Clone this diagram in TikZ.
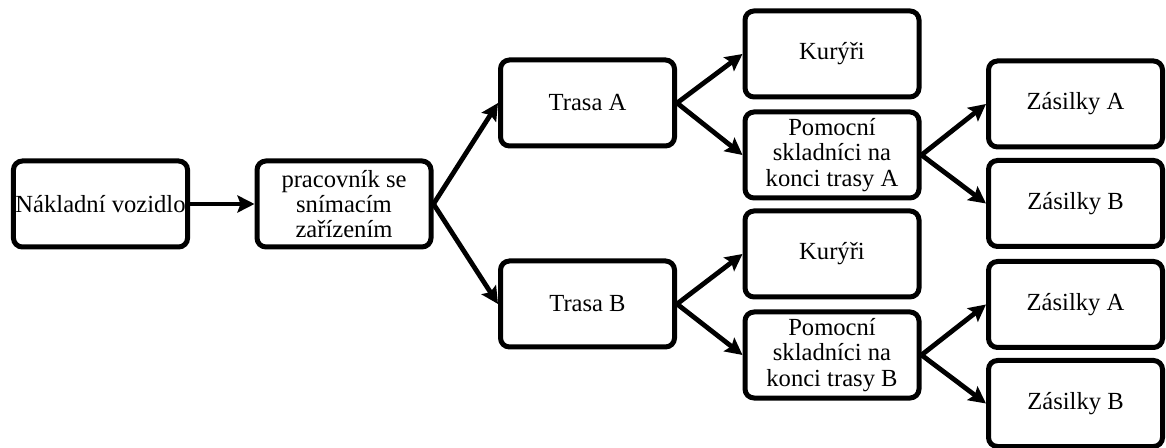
\documentclass[tikz,border=0pt]{standalone}
\usepackage{fontspec}
\setmainfont{Liberation Serif}
\usetikzlibrary{arrows.meta}
\begin{document}
\begin{tikzpicture}[x=0.5pt,y=-0.5pt,
  box/.style={draw=black, line width=2.5pt, rounded corners=4.5pt, fill=white,
    minimum width=87pt, minimum height=43pt, align=center, inner sep=1pt,
    font=\fontsize{12.3}{12.6}\selectfont},
  link/.style={line width=2.4pt, -{Stealth[length=8.5pt,width=8.5pt,inset=1.5pt]}}]
\useasboundingbox (0,0) rectangle (1166,448);
% first two stages
\node[box] (nv) at (100.5,204) {Nákladní vozidlo};
\node[box] (pr) at (344,204) {pracovník se\\snímacím\\zařízením};
% routes
\node[box] (ta) at (587.5,103) {Trasa A};
\node[box] (tb) at (587.5,304) {Trasa B};
% route A branches
\node[box] (ka) at (832,54) {Kurýři};
\node[box] (pa) at (832,155) {Pomocní\\skladníci na\\konci trasy A};
% route B branches
\node[box] (kb) at (832,254) {Kurýři};
\node[box] (pb) at (832,355) {Pomocní\\skladníci na\\konci trasy B};
% consignments
\node[box] (za1) at (1075.5,104) {Zásilky A};
\node[box] (zb1) at (1075.5,203.5) {Zásilky B};
\node[box] (za2) at (1075.5,304.5) {Zásilky A};
\node[box] (zb2) at (1075.5,403.5) {Zásilky B};
% connectors
\draw[link] (nv.east) -- (pr.west);
\draw[link] (pr.east) -- (ta.west);
\draw[link] (pr.east) -- (tb.west);
\draw[link] (ta.east) -- (ka.west);
\draw[link] (ta.east) -- (pa.west);
\draw[link] (tb.east) -- (kb.west);
\draw[link] (tb.east) -- (pb.west);
\draw[link] (pa.east) -- (za1.west);
\draw[link] (pa.east) -- (zb1.west);
\draw[link] (pb.east) -- (za2.west);
\draw[link] (pb.east) -- (zb2.west);
\end{tikzpicture}
\end{document}
